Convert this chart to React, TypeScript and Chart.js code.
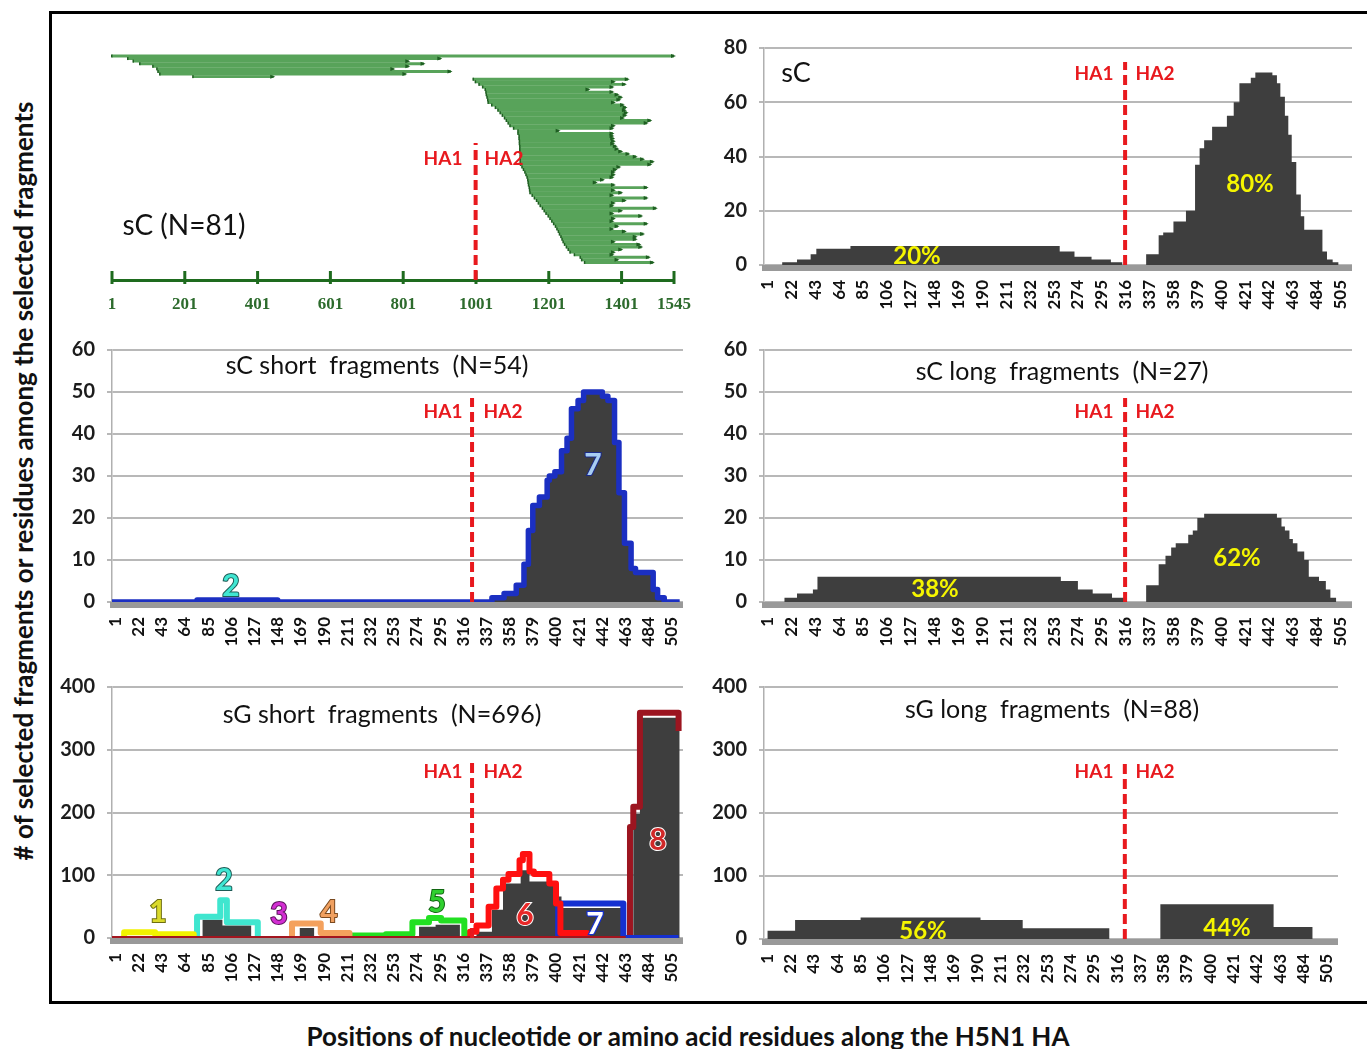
import React, { useEffect, useRef } from "react";
import { Chart, registerables } from "chart.js";

Chart.register(...registerables);

const FONT = "Lato, 'Open Sans', sans-serif";

// ---------------- data ----------------
// panel 1: sC fragments along the HA gene (nucleotides)
const ntTickValues = [1, 201, 401, 601, 801, 1001, 1201, 1401, 1545];
const fragStart = [
  1, 45, 60, 78, 114, 125, 128, 133, 224,
  994, 1000, 1010, 1020, 1027, 1029, 1030, 1032, 1034, 1035,
  1045, 1055, 1062, 1068, 1074, 1080, 1085, 1090, 1095, 1105,
  1117, 1117, 1120, 1120, 1121, 1121, 1122, 1122, 1122, 1123,
  1123, 1123, 1123, 1124, 1128, 1132, 1136, 1139, 1142, 1144,
  1145, 1146, 1148, 1149, 1150, 1156, 1162, 1168, 1173, 1178,
  1184, 1189, 1194, 1200, 1205, 1210, 1215, 1220, 1224, 1228,
  1231, 1235, 1238, 1241, 1245, 1250, 1255, 1260, 1272, 1288,
  1292, 1300,
];
const fragEnd = [
  1545, 903, 815, 857, 815, 774, 931, 807, 444,
  1418, 1380, 1410, 1376, 1310, 1376, 1390, 1400, 1395, 1380,
  1405, 1412, 1410, 1415, 1412, 1405, 1480, 1470, 1380, 1376,
  1228, 1376, 1376, 1378, 1380, 1378, 1385, 1390, 1400, 1420,
  1440, 1460, 1487, 1480, 1395, 1385, 1380, 1380, 1376, 1350,
  1330, 1380, 1470, 1380, 1400, 1376, 1470, 1410, 1380, 1376,
  1495, 1400, 1376, 1455, 1380, 1376, 1470, 1390, 1376, 1410,
  1460, 1440, 1440, 1380, 1450, 1455, 1400, 1380, 1376, 1476,
  1390, 1487,
];

// amino-acid position axis
const aaTickValues = [1, 22, 43, 64, 85, 106, 127, 148, 169, 190, 211, 232, 253, 274, 295, 316, 337, 358, 379, 400, 421, 442, 463, 484, 505];

// sC (all)
const sCPos = [1, 14, 27, 39, 44, 74, 258, 271, 286, 303, 313, 334, 345, 349, 358, 369, 377, 381, 385, 392, 405, 411, 416, 426, 430, 445, 449, 452, 456, 459, 462, 466, 470, 473, 489, 493, 498, 503, 512];
const sCVal = [0, 1, 2, 4, 6, 7, 5, 3, 2, 1, 0, 4, 11, 12, 16, 20, 37, 43, 46, 51, 55, 60, 67, 69, 71, 70, 67, 62, 55, 48, 38, 26, 18, 13, 5, 2, 1, 0, 0];

// sC short fragments
const sCShortPos = [-2, 75, 148, 342, 353, 364, 371, 375, 379, 385, 392, 394, 399, 405, 410, 414, 420, 425, 442, 447, 453, 457, 462, 468, 472, 488, 492, 498, 512];
const sCShortVal = [0, 0.5, 0, 1, 2, 4, 9, 17, 23, 25, 29, 30, 31, 36, 39, 46, 48, 50, 49, 48, 38, 26, 14, 8, 7, 3, 1, 0, 0];

// sC long fragments
const sCLongPos = [1, 16, 27, 41, 45, 259, 274, 287, 304, 315, 334, 345, 351, 356, 360, 371, 375, 379, 385, 449, 453, 456, 460, 463, 467, 473, 477, 486, 492, 496, 501, 512];
const sCLongVal = [0, 1, 2, 3, 6, 5, 3, 2, 1, 0, 4, 9, 11, 13, 14, 16, 17, 20, 21, 20, 18, 17, 15, 14, 12, 10, 6, 5, 3, 1, 0, 0];

// sG short fragments: total (dark) and the coloured clusters
const sGShortTotalPos = [-2, 80, 98, 124, 168, 181, 276, 291, 313, 328, 342, 352, 368, 376, 400, 405, 461, 470, 476, 512];
const sGShortTotalVal = [0, 29, 20, 0, 16, 0, 18, 21, 0, 10, 45, 87, 108, 90, 66, 48, 0, 198, 351, 351];
const sGBasePos = [-2, 463];
const sGBaseVal = [0, 0];
const sGC1Pos = [8, 9, 37, 72];
const sGC1Val = [0, 9, 6, 0];
const sGC2Pos = [74, 75, 96, 102, 130];
const sGC2Val = [0, 34, 60, 25, 0];
const sGC4Pos = [160, 161, 187, 213];
const sGC4Val = [0, 23, 8, 0];
const sGC5Pos = [212, 213, 246, 270, 285, 296, 317];
const sGC5Val = [0, 4, 6, 25, 32, 28, 0];
const sGC6Pos = [321, 322, 328, 339, 346, 352, 357, 367, 370, 376, 380, 394, 400, 404, 428];
const sGC6Val = [0, 10, 20, 50, 79, 93, 102, 124, 134, 106, 102, 87, 55, 8, 0];
const sGC7Pos = [401, 402, 461, 511];
const sGC7Val = [0, 55, 0, 0];
const sGC8Pos = [466, 467, 470, 476, 511];
const sGC8Val = [0, 177, 209, 359, 330];

// sG long fragments
const sGLongPos = [1, 26, 85, 193, 231, 309, 355, 457, 492, 512];
const sGLongVal = [13, 30, 34, 30, 17, 0, 55, 19, 0, 0];

// ---------------- styles ----------------
const DARK = "#3e3e3e";
const RED = "#e8191e";

type Series = { pos: number[]; val: number[]; fill?: string; line?: string; width?: number; order?: number };

const decorPlugin = {
  id: "decor",
  afterDatasetsDraw(chart: any, _a: any, opts: any) {
    const { ctx, chartArea, scales } = chart;
    ctx.save();
    if (opts.band) {
      ctx.fillStyle = opts.band;
      ctx.fillRect(chartArea.left - 2, chartArea.bottom, chartArea.right - chartArea.left + 2, opts.bandH);
    }
    if (opts.arrows) {
      const meta = chart.getDatasetMeta(0);
      ctx.fillStyle = "#1f5e22";
      meta.data.forEach((el: any) => {
        const p = el.getProps(["x", "y", "base"], true);
        const xe = Math.max(p.x, p.base);
        const xs = Math.min(p.x, p.base);
        ctx.beginPath();
        ctx.moveTo(xe + 2, p.y);
        ctx.lineTo(xe - 3, p.y - 2);
        ctx.lineTo(xe - 3, p.y + 2);
        ctx.closePath();
        ctx.fill();
        ctx.fillRect(xs - 1, p.y - 1.5, 1.5, 3);
      });
    }
    if (opts.tickMarks) {
      ctx.strokeStyle = "#1e6b1e";
      ctx.lineWidth = 3;
      opts.tickMarks.forEach((v: number) => {
        const x = scales.x.getPixelForValue(v);
        ctx.beginPath();
        ctx.moveTo(x, scales.x.top - 9);
        ctx.lineTo(x, scales.x.top + 4);
        ctx.stroke();
      });
    }
    const x = scales.x.getPixelForValue(opts.value);
    const yTop = scales.y.getPixelForValue(opts.top);
    ctx.strokeStyle = RED;
    ctx.lineWidth = 4;
    ctx.setLineDash([10, 5]);
    ctx.beginPath();
    ctx.moveTo(x, chartArea.bottom);
    ctx.lineTo(x, yTop);
    ctx.stroke();
    ctx.restore();
  },
};

type HistCfg = {
  yAxisW: number; xAxisH: number; padTop: number; padRight: number;
  yMax: number; yStep: number; series: Series[]; boundary: number; dashTop: number;
};

function buildHist(canvas: HTMLCanvasElement, c: HistCfg) {
  return new Chart(canvas, {
    type: "line",
    data: {
      datasets: c.series.map((s) => ({
        data: s.pos.map((p, i) => ({ x: p, y: s.val[i] })),
        stepped: true,
        fill: s.fill ? "origin" : false,
        backgroundColor: s.fill || "transparent",
        borderColor: s.line || "transparent",
        borderWidth: s.line ? s.width || 4 : 0,
        borderJoinStyle: "round",
        pointRadius: 0,
        order: s.order || 0,
      })),
    },
    options: {
      responsive: false,
      animation: false,
      events: [],
      layout: { padding: { left: 0, top: c.padTop, right: c.padRight, bottom: 0 } },
      plugins: {
        legend: { display: false },
        tooltip: { enabled: false },
        decor: { band: "#999999", bandH: 6, value: c.boundary, top: c.dashTop },
      } as any,
      scales: {
        x: {
          type: "linear",
          min: -2,
          max: 515,
          afterBuildTicks: (s: any) => {
            s.ticks = aaTickValues.map((v) => ({ value: v }));
          },
          afterFit: (s: any) => {
            s.height = c.xAxisH;
            s.paddingLeft = 0;
            s.paddingRight = 0;
          },
          grid: { display: false, drawTicks: false },
          border: { display: false },
          ticks: {
            autoSkip: false,
            minRotation: 90,
            maxRotation: 90,
            padding: 15,
            color: "#111",
            font: { family: FONT, size: 17, weight: "bold" },
          },
        },
        y: {
          min: 0,
          max: c.yMax,
          afterFit: (s: any) => {
            s.width = c.yAxisW;
            s.paddingTop = 0;
            s.paddingBottom = 0;
          },
          grid: { color: "#b8b8b8", lineWidth: 2, drawTicks: true, tickLength: 5 },
          border: { display: true, color: "#b0b0b0", width: 1.5 },
          ticks: {
            stepSize: c.yStep,
            padding: 12,
            color: "#1c1c1c",
            font: { family: FONT, size: 20, weight: "bold" },
          },
        },
      },
    } as any,
    plugins: [decorPlugin],
  });
}

function buildFragments(canvas: HTMLCanvasElement) {
  return new Chart(canvas, {
    type: "bar",
    data: {
      datasets: [
        {
          data: fragStart.map((s, i) => ({ x: [s, fragEnd[i]], y: i })),
          backgroundColor: "#58a35a",
          borderWidth: 0,
          barThickness: 2.3,
        } as any,
      ],
    },
    options: {
      indexAxis: "y",
      responsive: false,
      animation: false,
      events: [],
      layout: { padding: { left: 52, top: 13.4, right: 26, bottom: 0 } },
      plugins: {
        legend: { display: false },
        tooltip: { enabled: false },
        decor: { arrows: true, tickMarks: ntTickValues, value: 1000, top: 33.7 },
      } as any,
      scales: {
        x: {
          type: "linear",
          min: 1,
          max: 1545,
          afterBuildTicks: (s: any) => {
            s.ticks = ntTickValues.map((v) => ({ value: v }));
          },
          afterFit: (s: any) => {
            s.height = 50;
            s.paddingLeft = 0;
            s.paddingRight = 0;
          },
          grid: { display: false, drawTicks: false },
          border: { display: true, color: "#1e6b1e", width: 3 },
          ticks: {
            autoSkip: false,
            minRotation: 0,
            maxRotation: 0,
            padding: 14,
            color: "#2d6b2d",
            callback: (v: any) => String(v),
            font: { family: "'Liberation Serif', serif", size: 17, weight: "bold" },
          },
        },
        y: { type: "linear", reverse: true, offset: false, min: -1, max: 86.8, display: false },
      },
    } as any,
    plugins: [decorPlugin],
  });
}

// ---------------- panels ----------------
type PanelDef = { left: number; top: number; width: number; height: number; cfg?: HistCfg; frag?: boolean };

const panels: PanelDef[] = [
  { left: 60, top: 40, width: 640, height: 290, frag: true },
  {
    left: 690, top: 30, width: 677, height: 300,
    cfg: { yAxisW: 74, xAxisH: 65, padTop: 18, padRight: 15, yMax: 80, yStep: 20, boundary: 315.5, dashTop: 74.8,
      series: [{ pos: sCPos, val: sCVal, fill: DARK }] },
  },
  {
    left: 50, top: 330, width: 650, height: 340,
    cfg: { yAxisW: 62, xAxisH: 68, padTop: 20, padRight: 17, yMax: 60, yStep: 10, boundary: 324, dashTop: 48.6,
      series: [{ pos: sCShortPos, val: sCShortVal, fill: DARK, line: "#1b2fc2", width: 5.5 }] },
  },
  {
    left: 690, top: 330, width: 677, height: 340,
    cfg: { yAxisW: 74, xAxisH: 68, padTop: 20, padRight: 15, yMax: 60, yStep: 10, boundary: 315.5, dashTop: 48.6,
      series: [{ pos: sCLongPos, val: sCLongVal, fill: DARK }] },
  },
  {
    left: 50, top: 670, width: 650, height: 330,
    cfg: { yAxisW: 62, xAxisH: 62, padTop: 17, padRight: 17, yMax: 400, yStep: 100, boundary: 324, dashTop: 284,
      series: [
        { pos: sGBasePos, val: sGBaseVal, line: "#a3151f", width: 4, order: 0 },
        { pos: sGC1Pos, val: sGC1Val, line: "#f2f200", width: 6, order: 1 },
        { pos: sGC2Pos, val: sGC2Val, line: "#3fe6cf", width: 6, order: 1 },
        { pos: sGC4Pos, val: sGC4Val, line: "#f4a15d", width: 6, order: 1 },
        { pos: sGC5Pos, val: sGC5Val, line: "#22e022", width: 6, order: 1 },
        { pos: sGC6Pos, val: sGC6Val, line: "#ff1010", width: 6, order: 1 },
        { pos: sGC7Pos, val: sGC7Val, line: "#1530d0", width: 6, order: 1 },
        { pos: sGC8Pos, val: sGC8Val, line: "#9c1520", width: 6, order: 1 },
        { pos: sGShortTotalPos, val: sGShortTotalVal, fill: DARK, order: 2 },
      ] },
  },
  {
    left: 690, top: 670, width: 677, height: 330,
    cfg: { yAxisW: 74, xAxisH: 61, padTop: 17, padRight: 29, yMax: 400, yStep: 100, boundary: 323, dashTop: 284,
      series: [{ pos: sGLongPos, val: sGLongVal, fill: DARK }] },
  },
];

type TextDef = { text: string; x: number; y: number; size: number; weight?: number; color?: string; stroke?: string; sw?: number };

const texts: TextDef[] = [
  { text: "sC (N=81)", x: 184, y: 224, size: 28 },
  { text: "HA1", x: 443, y: 157, size: 19, weight: 700, color: RED },
  { text: "HA2", x: 504, y: 157, size: 19, weight: 700, color: RED },

  { text: "sC", x: 796, y: 71, size: 27 },
  { text: "HA1", x: 1094, y: 72, size: 19, weight: 700, color: RED },
  { text: "HA2", x: 1155, y: 72, size: 19, weight: 700, color: RED },
  { text: "80%", x: 1250, y: 183, size: 24, weight: 700, color: "#f5f500" },
  { text: "20%", x: 917, y: 255, size: 24, weight: 700, color: "#f5f500" },

  { text: "sC short  fragments  (N=54)", x: 377, y: 364, size: 25 },
  { text: "HA1", x: 443, y: 410, size: 19, weight: 700, color: RED },
  { text: "HA2", x: 503, y: 410, size: 19, weight: 700, color: RED },
  { text: "7", x: 593, y: 463, size: 30, weight: 700, color: "#a8cdf2", stroke: "#1a2a8a", sw: 2 },
  { text: "2", x: 231, y: 584, size: 30, weight: 700, color: "#40e6d2", stroke: "#1d5a55", sw: 2 },

  { text: "sC long  fragments  (N=27)", x: 1062, y: 370, size: 25 },
  { text: "HA1", x: 1094, y: 410, size: 19, weight: 700, color: RED },
  { text: "HA2", x: 1155, y: 410, size: 19, weight: 700, color: RED },
  { text: "62%", x: 1237, y: 557, size: 24, weight: 700, color: "#f5f500" },
  { text: "38%", x: 935, y: 588, size: 24, weight: 700, color: "#f5f500" },

  { text: "sG short  fragments  (N=696)", x: 382, y: 713, size: 25 },
  { text: "HA1", x: 443, y: 770, size: 19, weight: 700, color: RED },
  { text: "HA2", x: 503, y: 770, size: 19, weight: 700, color: RED },
  { text: "1", x: 158, y: 910, size: 30, weight: 700, color: "#dada2c", stroke: "#6e6e10", sw: 2 },
  { text: "2", x: 224, y: 878, size: 30, weight: 700, color: "#40e6d2", stroke: "#1d5a55", sw: 2 },
  { text: "3", x: 279, y: 912, size: 30, weight: 700, color: "#d22ed2", stroke: "#5a105a", sw: 2 },
  { text: "4", x: 329, y: 910, size: 30, weight: 700, color: "#f0a060", stroke: "#7a4a20", sw: 2 },
  { text: "5", x: 437, y: 900, size: 30, weight: 700, color: "#30d030", stroke: "#116611", sw: 2 },
  { text: "6", x: 525, y: 913, size: 30, weight: 700, color: "#e82828", stroke: "#ffffff", sw: 2 },
  { text: "7", x: 595, y: 922, size: 30, weight: 700, color: "#ffffff", stroke: "#1530d0", sw: 2.5 },
  { text: "8", x: 658, y: 838, size: 30, weight: 700, color: "#d02828", stroke: "#ffffff", sw: 2 },

  { text: "sG long  fragments  (N=88)", x: 1052, y: 708, size: 25 },
  { text: "HA1", x: 1094, y: 770, size: 19, weight: 700, color: RED },
  { text: "HA2", x: 1155, y: 770, size: 19, weight: 700, color: RED },
  { text: "56%", x: 923, y: 930, size: 24, weight: 700, color: "#f5f500" },
  { text: "44%", x: 1227, y: 927, size: 24, weight: 700, color: "#f5f500" },
];

function ChartCanvas({ p }: { p: PanelDef }) {
  const ref = useRef<HTMLCanvasElement>(null);
  useEffect(() => {
    const cv = ref.current!;
    const chart = p.frag ? buildFragments(cv) : buildHist(cv, p.cfg!);
    return () => chart.destroy();
  }, []);
  return (
    <canvas
      ref={ref}
      width={p.width}
      height={p.height}
      style={{ position: "absolute", left: p.left, top: p.top, width: p.width, height: p.height }}
    />
  );
}

function Text({ t }: { t: TextDef }) {
  const style: any = {
    position: "absolute",
    left: t.x,
    top: t.y,
    transform: "translate(-50%, -50%)",
    fontFamily: FONT,
    fontSize: t.size,
    fontWeight: t.weight || 400,
    color: t.color || "#111",
    whiteSpace: "pre",
    lineHeight: 1,
  };
  if (t.stroke) {
    style.WebkitTextStroke = `${t.sw}px ${t.stroke}`;
    style.paintOrder = "stroke fill";
  }
  return <div style={style}>{t.text}</div>;
}

export default function App() {
  return (
    <div style={{ position: "absolute", left: 0, top: 0, width: 1367, height: 1049, overflow: "hidden", background: "#fff" }}>
      <div
        style={{ position: "absolute", left: 49, top: 11, width: 1340, height: 993, boxSizing: "border-box", border: "3px solid #000" }}
      />
      {panels.map((p, i) => (
        <ChartCanvas key={i} p={p} />
      ))}
      {texts.map((t, i) => (
        <Text key={i} t={t} />
      ))}
      <div
        style={{
          position: "absolute", left: 23, top: 481, transform: "translate(-50%, -50%) rotate(-90deg)",
          fontFamily: FONT, fontSize: 26, fontWeight: 700, color: "#111", whiteSpace: "nowrap", lineHeight: 1,
        }}
      >
        # of selected fragments or residues among the selected fragments
      </div>
      <div
        style={{
          position: "absolute", left: 688, top: 1036, transform: "translate(-50%, -50%)",
          fontFamily: FONT, fontSize: 26, fontWeight: 700, color: "#111", whiteSpace: "nowrap", lineHeight: 1,
        }}
      >
        Positions of nucleotide or amino acid residues along the H5N1 HA
      </div>
    </div>
  );
}
